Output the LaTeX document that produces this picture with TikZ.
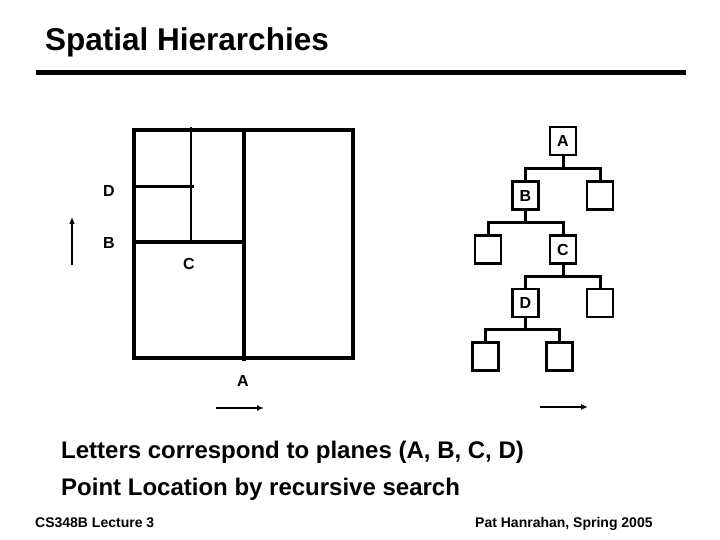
\documentclass[tikz,border=0pt]{standalone}
\usepackage{fontspec}
\setmainfont{Liberation Sans}
\usetikzlibrary{positioning,arrows.meta}

\tikzset{
  leaf/.style={draw, line width=2.8pt, minimum width=26pt, minimum height=28pt, inner sep=0pt, font=\bfseries\fontsize{16}{18}\selectfont},
  plane/.style={font=\bfseries\fontsize{16}{18}\selectfont},
  cut/.style={line width=3.5pt},
  branch/.style={line width=3pt},
  dir/.style={line width=2pt, -{Latex[length=7pt,width=6pt]}}
}

\begin{document}
\begin{tikzpicture}[x=1pt, y=-1pt]
    \useasboundingbox (0,0) rectangle (720,540);
    % Titel
    \node[anchor=base west, inner sep=0pt, font=\bfseries\fontsize{31.5}{36}\selectfont] (title) at (45,51) {Spatial Hierarchies};
    \draw[line width=5pt] (36,72.5) -- (686,72.5); % Linie
    % Ebenen:
    \draw[cut] (134,130) rectangle (353,358);
    \draw[cut] (244,130) -- (244,361); % A
    \draw[cut] (134,242) -- (244,242); % B
    \draw[cut, line width=2.6pt] (191,127) -- (191,242); % C
    \draw[cut, line width=3pt] (134,187) -- (194,187); % D
    \node[plane] (pD) at (109,191) {D};
    \node[plane] (pB) at (109,243) {B};
    \node[plane] (pC) at (189,264) {C};
    \node[plane] (pA) at (243,381) {A};
    \coordinate (upS) at (72,265);
    \coordinate (upE) at (72,217);
    \coordinate (rtS) at (216,408);
    \coordinate (rtE) at (264,408);
    \draw[dir] (upS) -- (upE);
    \draw[dir] (rtS) -- (rtE);
    % Baum:
    \node[leaf] (tA) at (563,141) {A};
    \node[leaf] (tB) at (525.5,195.5) {B};
    \node[leaf] (tR1) at (600,195.5) {};
    \node[leaf] (tL2) at (488,249.5) {};
    \node[leaf] (tC) at (563,249.5) {C};
    \node[leaf] (tD) at (525.5,303) {D};
    \node[leaf] (tR3) at (600,303) {};
    \node[leaf] (tL4) at (485.5,356.5) {};
    \node[leaf] (tR4) at (559.5,356.5) {};
    \draw[branch] (tA.south) -- ++(0,12) -| (tB.north);
    \draw[branch] (tA.south) -- ++(0,12) -| (tR1.north);
    \draw[branch] (tB.south) -- ++(0,11.5) -| (tL2.north);
    \draw[branch] (tB.south) -- ++(0,11.5) -| (tC.north);
    \draw[branch] (tC.south) -- ++(0,11.5) -| (tD.north);
    \draw[branch] (tC.south) -- ++(0,11.5) -| (tR3.north);
    \draw[branch] (tD.south) -- ++(0,11.5) -| (tL4.north);
    \draw[branch] (tD.south) -- ++(0,11.5) -| (tR4.north);
    \coordinate (trS) at (540,407);
    \coordinate (trE) at (588,407);
    \draw[dir] (trS) -- (trE);
    % Text unten
    \node[anchor=base west, inner sep=0pt, font=\bfseries\fontsize{24}{28}\selectfont] (line1) at (61,458) {Letters correspond to planes (A, B, C, D)};
    \node[anchor=base west, inner sep=0pt, font=\bfseries\fontsize{24}{28}\selectfont] (line2) at (61,495) {Point Location by recursive search};
    \node[anchor=base west, inner sep=0pt, font=\bfseries\fontsize{14}{16}\selectfont] (foot1) at (35,527) {CS348B Lecture 3};
    \node[anchor=base west, inner sep=0pt, font=\bfseries\fontsize{14}{16}\selectfont] (foot2) at (475,527) {Pat Hanrahan, Spring 2005};
\end{tikzpicture}
\end{document}
